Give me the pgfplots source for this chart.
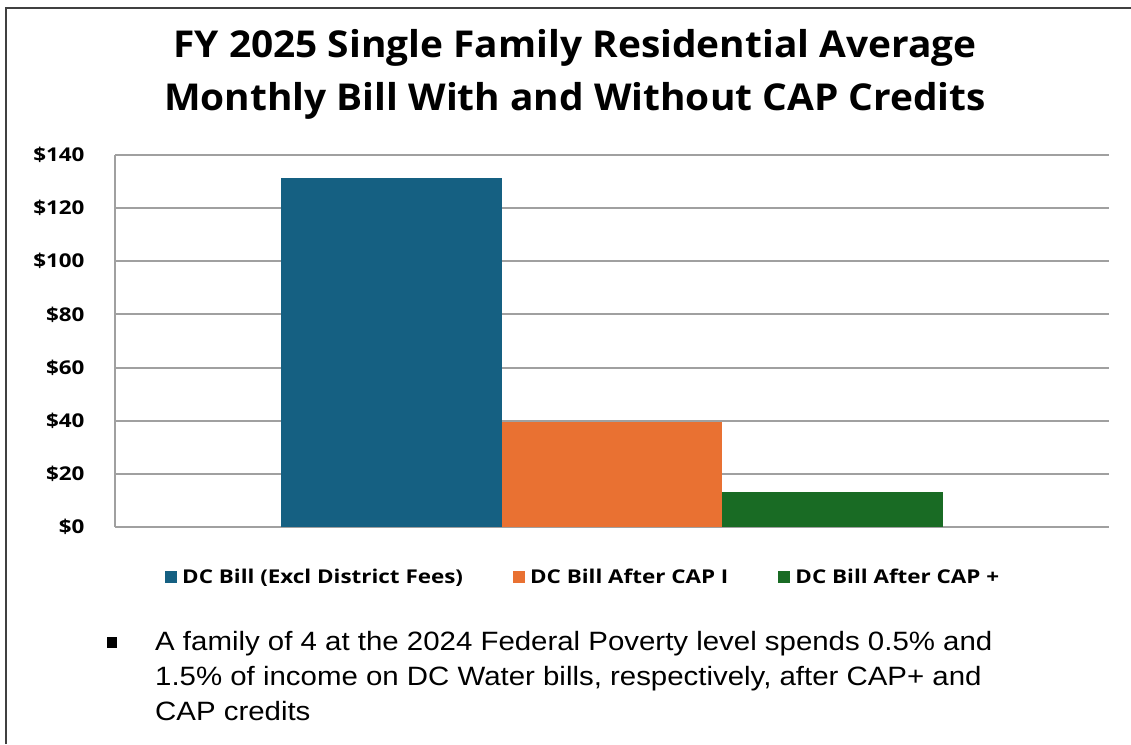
\documentclass[border=0pt]{standalone}
\usepackage{fontspec}
\setmainfont{Open Sans}
\newfontfamily\titlefont[FakeStretch=1.05]{Open Sans}
\newfontfamily\labelfont[FakeStretch=1.18]{Open Sans}
\newfontfamily\arialfont[FakeStretch=1.11]{Liberation Sans}
\usepackage{pgfplots}
\pgfplotsset{compat=1.18}
\definecolor{cBlue}{HTML}{156082}
\definecolor{cOrange}{HTML}{E97132}
\definecolor{cGreen}{HTML}{196B24}
\definecolor{cGrid}{HTML}{A0A0A0}
\begin{document}
\begin{tikzpicture}[x=1pt,y=1pt]
\useasboundingbox (0,0) rectangle (1131,744);
\draw[line width=1.5pt, color=black!75] (6,0) -- (6,736) -- (1131,736);
\node[align=center, font=\titlefont\fontsize{37}{53}\selectfont\bfseries] at (575,670)
  {FY 2025 Single Family Residential Average\\Monthly Bill With and Without CAP Credits};
\begin{axis}[
  scale only axis,
  width=994pt, height=372pt,
  at={(115pt,217pt)}, anchor=south west,
  xmin=0, xmax=4.5, ymin=0, ymax=140,
  ytick={0,20,...,140},
  yticklabel={\$\pgfmathprintnumber{\tick}},
  /pgf/number format/assume math mode=true,
  yticklabel style={font=\labelfont\fontsize{19}{22}\selectfont\bfseries, anchor=east, xshift=-27pt},
  xtick=\empty,
  major tick length=0pt,
  axis x line*=bottom, axis y line*=left,
  axis line style={cGrid, line width=2pt},
  ymajorgrids, grid style={cGrid, line width=2pt},
  ybar, bar width=1,
  every axis plot/.append style={bar shift=0pt, draw=none},
  legend columns=3,
  legend style={draw=none, fill=none, at={(0.471,-0.135)}, anchor=center,
    font=\labelfont\fontsize{19}{22}\selectfont\bfseries,
    /tikz/every odd column/.append style={column sep=3pt},
    /tikz/every even column/.append style={column sep=48pt}},
  legend image code/.code={\fill[#1] (0pt,-6pt) rectangle (12pt,6pt);},
]
\addplot[fill=cBlue] coordinates {(1.25,131.2)};
\addlegendentry{DC Bill (Excl District Fees)}
\addplot[fill=cOrange] coordinates {(2.25,39.7)};
\addlegendentry{DC Bill After CAP I}
\addplot[fill=cGreen] coordinates {(3.25,13)};
\addlegendentry{DC Bill After CAP +}
\end{axis}
\fill[black] (107,96) rectangle (117,107);
\node[anchor=north west, align=left, inner sep=0pt, font=\arialfont\fontsize{26.5}{35}\selectfont] at (155,113)
  {A family of 4 at the 2024 Federal Poverty level spends 0.5\% and\\1.5\% of income on DC Water bills, respectively, after CAP+ and\\CAP credits};
\end{tikzpicture}
\end{document}
